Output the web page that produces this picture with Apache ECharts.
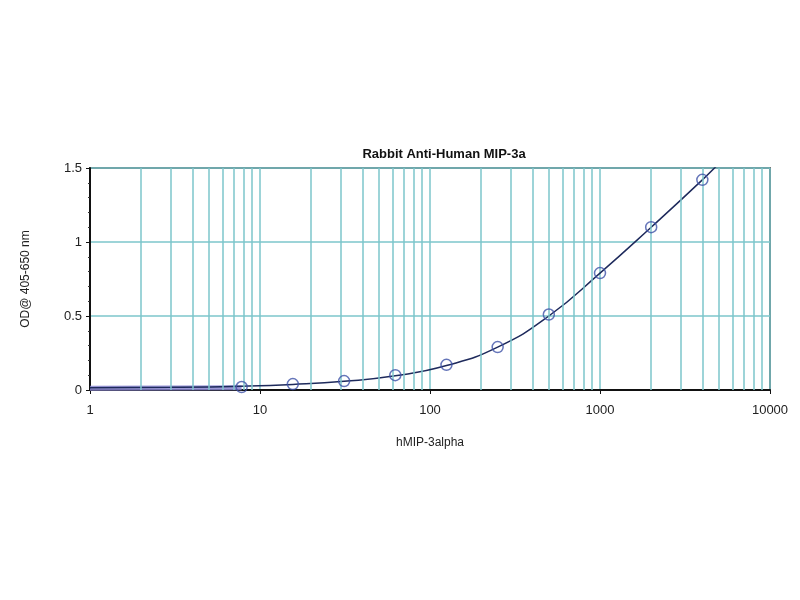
<!DOCTYPE html>
<html><head><meta charset="utf-8">
<script src="https://cdn.jsdelivr.net/npm/echarts@6/dist/echarts.min.js"></script>
<style>html,body{margin:0;padding:0;background:#fff}#c{width:800px;height:600px}</style>
</head><body><div id="c"></div>
<script>
// Standard concentrations (x) and measured OD (y)
var concentrations = [7.8, 15.6, 31.25, 62.5, 125, 250, 500, 1000, 2000, 4000];
var odValues = [0.02, 0.04, 0.06, 0.10, 0.17, 0.29, 0.51, 0.79, 1.10, 1.42];
// Fitted curve (extends beyond the data range)
var curveX = [1, 3, 7.8, 15.6, 31.25, 62.5, 125, 250, 500, 1000, 2000, 4000, 5200];
var curveY = [0.015, 0.018, 0.026, 0.038, 0.059, 0.096, 0.165, 0.29, 0.50, 0.79, 1.10, 1.42, 1.55];
// Thick blank band near zero at the low end
var bandX = [1, 7.8];
var bandY = [0.012, 0.016];
// Log-decade minor grid positions
var minorGridX = [2,3,4,5,6,7,8,9,20,30,40,50,60,70,80,90,200,300,400,500,600,700,800,900,2000,3000,4000,5000,6000,7000,8000,9000];
var xTicks = [1, 10, 100, 1000, 10000];
var yTicks = [0, 0.5, 1, 1.5];

var gridColor = '#7cc6cb';
var fontFam = 'Liberation Sans, Arial';
var chart = echarts.init(document.getElementById('c'));
chart.setOption({
  animation: false,
  backgroundColor: '#fff',
  title: {
    text: 'Rabbit Anti-Human MIP-3a',
    left: 439, top: 143, textAlign: 'center',
    textStyle: {fontFamily: fontFam, fontSize: 13, fontWeight: 'bold', color: '#111'}
  },
  grid: {left: 90, right: 30, top: 168, bottom: 210, show: true, borderColor: '#111', borderWidth: 1.5, backgroundColor: 'transparent'},
  xAxis: {
    type: 'log', logBase: 10, min: xTicks[0], max: xTicks[xTicks.length-1],
    name: 'hMIP-3alpha', nameLocation: 'middle', nameGap: 47,
    nameTextStyle: {fontFamily: fontFam, fontSize: 12, color: '#222'},
    axisLine: {show: true, lineStyle: {color: '#111', width: 2}},
    axisTick: {show: true, length: 4, lineStyle: {color: '#111'}},
    axisLabel: {fontFamily: fontFam, fontSize: 13, color: '#222', margin: 14,
      formatter: function(v){ return String(Math.round(v)); }},
    splitLine: {show: true, lineStyle: {color: gridColor, width: 1.5}}
  },
  yAxis: {
    type: 'value', min: yTicks[0], max: yTicks[yTicks.length-1], interval: 0.5,
    name: 'OD@ 405-650 nm', nameLocation: 'middle', nameGap: 58, nameRotate: 90,
    nameTextStyle: {fontFamily: fontFam, fontSize: 12, color: '#222'},
    axisLine: {show: true, lineStyle: {color: '#111', width: 2}},
    axisTick: {show: true, length: 4, lineStyle: {color: '#111'}},
    minorTick: {show: true, splitNumber: 5, length: 2, lineStyle: {color: '#333'}},
    axisLabel: {fontFamily: fontFam, fontSize: 13, color: '#222', margin: 8},
    splitLine: {show: true, lineStyle: {color: gridColor, width: 1.5}}
  },
  series: [
    {
      type: 'line', data: [], silent: true,
      markLine: {
        silent: true, symbol: 'none', label: {show: false},
        lineStyle: {color: gridColor, width: 1.5, type: 'solid'},
        data: minorGridX.map(function(v){ return {xAxis: v}; })
      }
    },
    {
      type: 'line', data: bandX.map(function(x,i){return [x, bandY[i]];}),
      symbol: 'none', lineStyle: {color: '#8a86d0', width: 5, opacity: 0.85}, z: 3
    },
    {
      type: 'line', data: curveX.map(function(x,i){return [x, curveY[i]];}),
      smooth: 0.5, symbol: 'none', clip: true,
      lineStyle: {color: '#1e2a5c', width: 1.5}, z: 4
    },
    {
      type: 'scatter', data: concentrations.map(function(x,i){return [x, odValues[i]];}),
      symbol: 'circle', symbolSize: 11,
      itemStyle: {color: 'rgba(255,255,255,0)', borderColor: '#3e52a8', borderWidth: 1.5}, z: 5
    }
  ]
});
</script></body></html>
